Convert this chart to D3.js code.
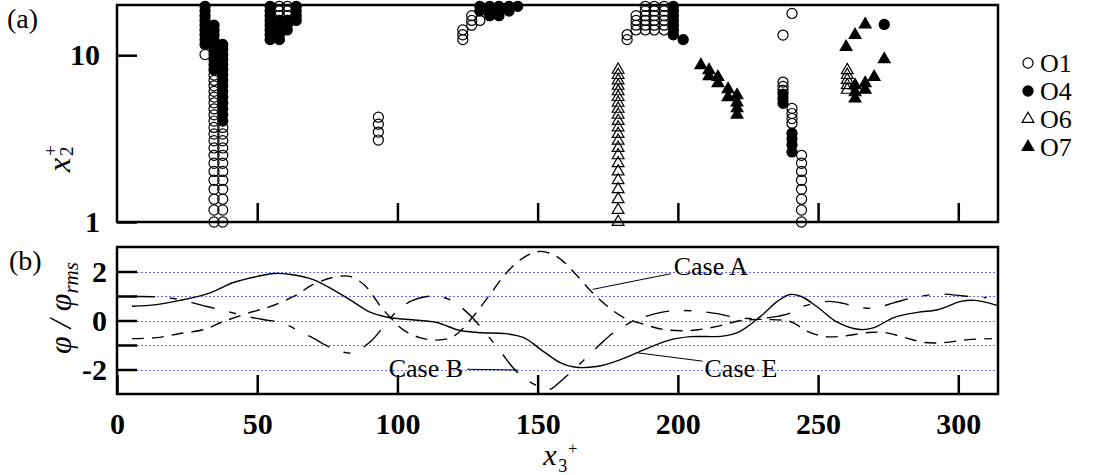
<!DOCTYPE html>
<html lang="en">
<head>
<meta charset="UTF-8">
<title>x2+ and phi / phi_rms</title>
<script src="https://d3js.org/d3.v7.min.js"></script>
<style>
  body { margin: 0; background: #fff; }
  svg { display: block; font-family: "Liberation Serif", "Times New Roman", serif; }
</style>
</head>
<body>
<div id="chart"></div>
<script>
// axis ticks
var xTicks = [0, 50, 100, 150, 200, 250, 300];
var x2Ticks = [1, 10];
var phiTicks = [-2, -1, 0, 1, 2];
var phiLabels = [-2, 0, 2];

// wall-normal grid levels (x2+)
var yGrid = [1.00, 1.18, 1.37, 1.57, 1.78, 2.01, 2.25, 2.51, 2.78, 3.07, 3.37, 3.69, 4.03,
             4.39, 4.77, 5.18, 5.61, 6.07, 6.55, 7.06, 7.60, 8.17, 8.78, 9.42, 10.10, 10.82,
             11.59, 12.40, 13.26, 14.17, 15.14, 16.17, 17.26, 18.41, 19.63];

// marker columns: x3+ with either a range of grid levels or explicit x2+ values
var o1Cols = [
  {x: 31.4, ys: [10.10]},
  {x: 34.6, lo: 1.0, hi: 7.60},
  {x: 37.7, lo: 1.0, hi: 3.69},
  {x: 57.9, lo: 17.26, hi: 19.63},
  {x: 60.7, lo: 17.26, hi: 19.63},
  {x: 93.2, ys: [3.10, 3.46, 3.86, 4.25]},
  {x: 123.3, lo: 12.40, hi: 14.17},
  {x: 126.5, lo: 15.14, hi: 17.26},
  {x: 129.4, ys: [16.17]},
  {x: 181.9, lo: 12.40, hi: 13.26},
  {x: 185.1, lo: 14.17, hi: 17.26},
  {x: 188.4, lo: 14.17, hi: 19.63},
  {x: 191.6, lo: 14.17, hi: 19.63},
  {x: 195.1, lo: 14.17, hi: 19.63},
  {x: 237.5, ys: [13.2, 6.9, 6.5, 6.15]},
  {x: 240.7, ys: [17.8, 4.8, 4.47, 4.17, 3.9]},
  {x: 244.1, lo: 1.0, hi: 2.51}
];
var o4Cols = [
  {x: 31.4, lo: 11.59, hi: 19.63},
  {x: 34.6, lo: 8.17, hi: 15.14},
  {x: 37.7, lo: 4.03, hi: 11.59},
  {x: 54.6, lo: 12.40, hi: 19.63},
  {x: 57.9, lo: 12.40, hi: 16.17},
  {x: 60.7, lo: 14.17, hi: 16.17},
  {x: 63.9, lo: 16.17, hi: 19.63},
  {x: 129.4, lo: 18.41, hi: 19.63},
  {x: 132.9, lo: 17.26, hi: 19.63},
  {x: 136.2, lo: 17.26, hi: 19.63},
  {x: 139.8, lo: 18.41, hi: 19.63},
  {x: 142.9, ys: [19.63]},
  {x: 198.4, lo: 13.26, hi: 19.63},
  {x: 201.9, ys: [12.40]},
  {x: 237.5, ys: [5.85, 5.5, 5.15]},
  {x: 240.7, ys: [3.41, 3.15, 2.9, 2.63]},
  {x: 273.6, ys: [15.3]}
];
var o6Cols = [
  {x: 178.7, lo: 1.0, hi: 8.17},
  {x: 260.4, ys: [8.13, 7.6, 7.1, 6.6, 6.2]}
];
var o7Cols = [
  {x: 208.2, ys: [8.72]},
  {x: 211.1, ys: [8.13, 7.49]},
  {x: 214.3, ys: [7.4, 6.8]},
  {x: 217.9, ys: [6.26, 5.6]},
  {x: 221.1, ys: [5.75, 5.2, 4.8, 4.4]},
  {x: 260.0, ys: [11.2]},
  {x: 263.2, ys: [13.2, 6.6, 6.0, 5.5]},
  {x: 266.8, ys: [15.3, 6.8, 6.2]},
  {x: 270.0, ys: [7.4]},
  {x: 273.6, ys: [9.45]}
];

// phi / phi_rms along x3+
var caseA = [[5.3,-0.74],[14,-0.7],[22.5,-0.53],[31,-0.37],[38,-0.04],[46.4,0.29],[54.6,0.57],
  [63,0.98],[70,1.47],[77,1.76],[83,1.8],[88,1.47],[91.5,0.98],[94,0.57],[97.5,0.12],[102,-0.37],
  [108,-0.7],[114,-0.8],[120,-0.65],[127,0.16],[133,1.06],[139,1.96],[145,2.57],[151,2.82],
  [157,2.6],[163,1.96],[169,1.2],[175,0.57],[180.7,0.12],[188,-0.16],[195,-0.37],[204.6,-0.41],
  [214,-0.24],[222.5,0],[232,0.04],[240,-0.04],[246.4,-0.45],[252,-0.65],[258,-0.65],[268,-0.49],
  [273.6,-0.49],[281,-0.7],[288,-0.9],[295,-0.9],[303.5,-0.78],[312,-0.74]];
var caseB = [[5,0.98],[14,0.97],[20,0.9],[25,0.78],[32,0.57],[38,0.41],[45,0.2],[52,0.04],
  [57,-0.05],[61,-0.2],[66,-0.5],[70,-0.72],[74,-0.98],[78,-1.2],[82,-1.32],[85,-1.3],[88,-1.08],
  [91,-0.8],[94,-0.4],[97.5,0.1],[101,0.5],[105,0.8],[110,0.97],[114,1.0],[118,0.88],[121.5,0.65],
  [126,0.2],[131,-0.45],[137,-1.3],[141,-1.9],[145,-2.35],[149,-2.62],[152,-2.82],[155,-2.78],
  [158,-2.5],[161,-2.2],[166,-1.67],[172,-1.0],[177,-0.5],[180,-0.3],[183,-0.08],[188,0.15],
  [194,0.33],[200,0.41],[208,0.37],[214,0.28],[219,0.16],[225,0.08],[231,0.1],[236,0.18],
  [240,0.3],[244,0.55],[248,0.68],[254,0.78],[259,0.7],[264,0.55],[270,0.5],[277,0.72],
  [285,0.96],[294,1.08],[302,1.0],[310,0.93]];
var caseE = [[5.3,0.58],[14,0.65],[22.5,0.82],[33,1.12],[41.5,1.55],[50,1.8],[56,1.92],[62,1.88],
  [70,1.67],[77,1.26],[84,0.78],[90,0.35],[97,0.12],[104,0.04],[114,-0.08],[122,-0.4],[130,-0.5],
  [138,-0.53],[145,-0.7],[152,-1.26],[158,-1.72],[163,-1.9],[171,-1.88],[179.5,-1.6],[188,-1.19],
  [197,-0.8],[204.5,-0.66],[216,-0.64],[222,-0.45],[229.5,0.17],[235.5,0.78],[240,1.06],[244,0.98],
  [250,0.53],[257,-0.08],[265,-0.37],[270,-0.29],[277,0.12],[285.5,0.33],[293,0.45],[301,0.78],
  [306,0.82],[314,0.61]];

// labels with leader lines: text anchor point and line ends in data units
var notes = [
  {text: "Case A", tx: 198.5, ty: 1.87, anchor: "start", line: [[169.6, 1.27], [197.5, 1.91]]},
  {text: "Case B", tx: 123.4, ty: -2.29, anchor: "end", line: [[124.8, -1.99], [142.9, -2.02]]},
  {text: "Case E", tx: 209.5, ty: -2.29, anchor: "start", line: [[185.6, -1.32], [208.8, -1.66]]}
];

var legendKeys = ["O1", "O4", "O6", "O7"];

var W = 1093, H = 475;
var svg = d3.select("#chart").append("svg").attr("width", W).attr("height", H);

var x = d3.scaleLinear().domain([0, 314.16]).range([117, 998]);
var yTop = d3.scaleLog().domain([1, 20]).range([222, 5]);
var yBot = d3.scaleLinear().domain([-3, 3]).range([394, 247]);

function columnPoints(cols) {
  var pts = [];
  cols.forEach(function(c) {
    var ys = c.ys ? c.ys : yGrid.filter(function(v) { return v >= c.lo && v <= c.hi; });
    ys.forEach(function(v) { pts.push([c.x, v]); });
  });
  return pts;
}

function styleAxis(g, size) {
  g.select(".domain").remove();
  g.selectAll(".tick line").attr("stroke", "#000").attr("stroke-width", 2.5);
  g.selectAll(".tick text").attr("fill", "#000")
    .style("font-family", "'Liberation Serif', 'Times New Roman', serif")
    .style("font-weight", "bold").style("font-size", size + "px");
}

// ---------- panel (a) ----------
svg.append("g").attr("transform", "translate(0," + yTop(1) + ")")
  .call(d3.axisBottom(x).tickValues(xTicks.slice(1)).tickSize(-19).tickFormat(""))
  .call(styleAxis, 29);

svg.append("g").attr("transform", "translate(" + x(0) + ",0)")
  .call(d3.axisLeft(yTop).tickValues(x2Ticks).tickSize(-20).tickPadding(17).tickFormat(d3.format("d")))
  .call(styleAxis, 30);

var circlePath = d3.symbol().type(d3.symbolCircle).size(80)();
var triPath = d3.symbol().type(d3.symbolTriangle).size(60)();

function drawMarkers(cols, path, filled) {
  svg.append("g").selectAll("path")
    .data(columnPoints(cols))
    .enter().append("path")
    .attr("d", path)
    .attr("transform", function(d) { return "translate(" + x(d[0]) + "," + yTop(d[1]) + ")"; })
    .attr("fill", filled ? "#000" : "none")
    .attr("stroke", "#000")
    .attr("stroke-width", 1.2);
}
drawMarkers(o1Cols, circlePath, false);
drawMarkers(o4Cols, circlePath, true);
drawMarkers(o6Cols, triPath, false);
drawMarkers(o7Cols, triPath, true);

svg.append("rect")
  .attr("x", x(0)).attr("y", yTop(20))
  .attr("width", x(314.16) - x(0)).attr("height", yTop(1) - yTop(20))
  .attr("fill", "none").attr("stroke", "#000").attr("stroke-width", 2.5);

// legend
var legend = svg.append("g").attr("transform", "translate(1028,63)");
legendKeys.forEach(function(k, i) {
  var g = legend.append("g").attr("transform", "translate(0," + (i * 28) + ")");
  g.append("path")
    .attr("d", i < 2 ? circlePath : triPath)
    .attr("fill", (i === 1 || i === 3) ? "#000" : "none")
    .attr("stroke", "#000").attr("stroke-width", 1.2);
  g.append("text").attr("x", 12).attr("y", 9)
    .style("font-size", "26px").text(k);
});

svg.append("text").attr("x", 7).attr("y", 28).style("font-size", "28px").text("(a)");

var yl = svg.append("g").attr("transform", "translate(70,158) rotate(-90)");
yl.append("text").attr("x", -14).attr("y", 0).style("font-size", "32px").style("font-style", "italic").text("x");
yl.append("text").attr("x", 2).attr("y", 3).style("font-size", "19px").text("2");
yl.append("text").attr("x", 2).attr("y", -13).style("font-size", "19px").text("+");

// ---------- panel (b) ----------
svg.append("g").selectAll("line")
  .data(phiTicks)
  .enter().append("line")
  .attr("x1", x(0)).attr("x2", x(314.16))
  .attr("y1", function(d) { return Math.round(yBot(d)) + 0.5; })
  .attr("y2", function(d) { return Math.round(yBot(d)) + 0.5; })
  .attr("stroke", "#6a6aff").attr("stroke-width", 1).attr("stroke-dasharray", "2,2");

var line = d3.line()
  .x(function(d) { return x(d[0]); })
  .y(function(d) { return yBot(d[1]); })
  .curve(d3.curveCatmullRom);

var curves = [
  {data: caseE, dash: null},
  {data: caseA, dash: "12,8"},
  {data: caseB, dash: "24,15,7,15"}
];
svg.append("g").selectAll("path")
  .data(curves)
  .enter().append("path")
  .attr("d", function(d) { return line(d.data); })
  .attr("fill", "none").attr("stroke", "#000").attr("stroke-width", 1.4)
  .attr("stroke-dasharray", function(d) { return d.dash; });

svg.append("g").attr("transform", "translate(0," + yBot(-3) + ")")
  .call(d3.axisBottom(x).tickValues(xTicks).tickSize(-19).tickPadding(19).tickFormat(String))
  .call(styleAxis, 30);

svg.append("g").attr("transform", "translate(" + x(0) + ",0)")
  .call(d3.axisLeft(yBot).tickValues(phiTicks).tickSize(-20).tickPadding(10)
    .tickFormat(function(d) { return phiLabels.indexOf(d) >= 0 ? String(d) : ""; }))
  .call(styleAxis, 30);

svg.append("rect")
  .attr("x", x(0)).attr("y", yBot(3))
  .attr("width", x(314.16) - x(0)).attr("height", yBot(-3) - yBot(3))
  .attr("fill", "none").attr("stroke", "#000").attr("stroke-width", 2.5);

notes.forEach(function(n) {
  svg.append("line")
    .attr("x1", x(n.line[0][0])).attr("y1", yBot(n.line[0][1]))
    .attr("x2", x(n.line[1][0])).attr("y2", yBot(n.line[1][1]))
    .attr("stroke", "#000").attr("stroke-width", 1);
  svg.append("text")
    .attr("x", x(n.tx)).attr("y", yBot(n.ty))
    .attr("text-anchor", n.anchor)
    .style("font-size", "26px").text(n.text);
});

svg.append("text").attr("x", 9).attr("y", 270).style("font-size", "28px").text("(b)");

var pl = svg.append("g").attr("transform", "translate(71,308) rotate(-90)");
var pt = pl.append("text").attr("text-anchor", "middle").style("font-size", "32px").style("font-style", "italic");
pt.append("tspan").text("\u03c6 / \u03c6");
pt.append("tspan").attr("dy", 7).style("font-size", "21px").text("rms");

var xl = svg.append("g").attr("transform", "translate(" + x(157) + ",465)");
xl.append("text").attr("x", -14).attr("y", 0).style("font-size", "30px").style("font-style", "italic").text("x");
xl.append("text").attr("x", 1).attr("y", 7).style("font-size", "18px").text("3");
xl.append("text").attr("x", 11).attr("y", -11).style("font-size", "16px").text("+");
</script>
</body>
</html>
